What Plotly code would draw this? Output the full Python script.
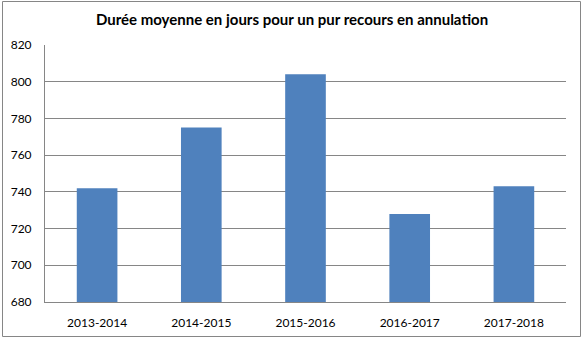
import plotly.graph_objects as go

# Average duration (days) per fiscal year
periods = ["2013-2014", "2014-2015", "2015-2016", "2016-2017", "2017-2018"]
durations = [742, 775, 804, 728, 743]
y_ticks = [680, 700, 720, 740, 760, 780, 800, 820]

W, H = 584, 347
ML, MR, MT, MB = 45, 18, 45, 45
pw, ph = W - ML - MR, H - MT - MB

def px_to_paper_x(px):
    return (px - ML) / pw

def px_to_paper_y(py):
    return (H - MB - py) / ph

fig = go.Figure(
    go.Bar(
        x=periods,
        y=durations,
        marker=dict(color="#4F81BD", line=dict(width=0)),
        width=0.39,
    )
)

fig.update_layout(
    width=W,
    height=H,
    margin=dict(l=ML, r=MR, t=MT, b=MB),
    paper_bgcolor="white",
    plot_bgcolor="white",
    showlegend=False,
    title=dict(
        text="<b>Durée moyenne en jours pour un pur recours en annulation</b>",
        x=0.5,
        xanchor="center",
        y=1 - 20 / H,
        yanchor="middle",
        font=dict(family="Lato, Liberation Sans, sans-serif", size=15, color="#000000"),
    ),
    font=dict(family="Lato, Liberation Sans, sans-serif", size=12, color="#000000"),
    shapes=[
        dict(
            type="rect",
            xref="paper",
            yref="paper",
            x0=px_to_paper_x(2.5),
            x1=px_to_paper_x(580.5),
            y0=px_to_paper_y(336.5),
            y1=px_to_paper_y(1.5),
            line=dict(color="#868686", width=1),
            layer="below",
        )
    ],
)

fig.update_xaxes(
    showgrid=False,
    showline=True,
    linecolor="#868686",
    linewidth=1,
    ticks="",
    ticklabelstandoff=10,
    tickfont=dict(size=12),
)

fig.update_yaxes(
    range=[680, 820],
    tickvals=y_ticks,
    showgrid=True,
    gridcolor="#868686",
    gridwidth=1,
    showline=True,
    linecolor="#868686",
    linewidth=1,
    ticks="",
    ticklabelstandoff=10,
    zeroline=False,
    tickfont=dict(size=12),
)

fig.write_html("out.html")
